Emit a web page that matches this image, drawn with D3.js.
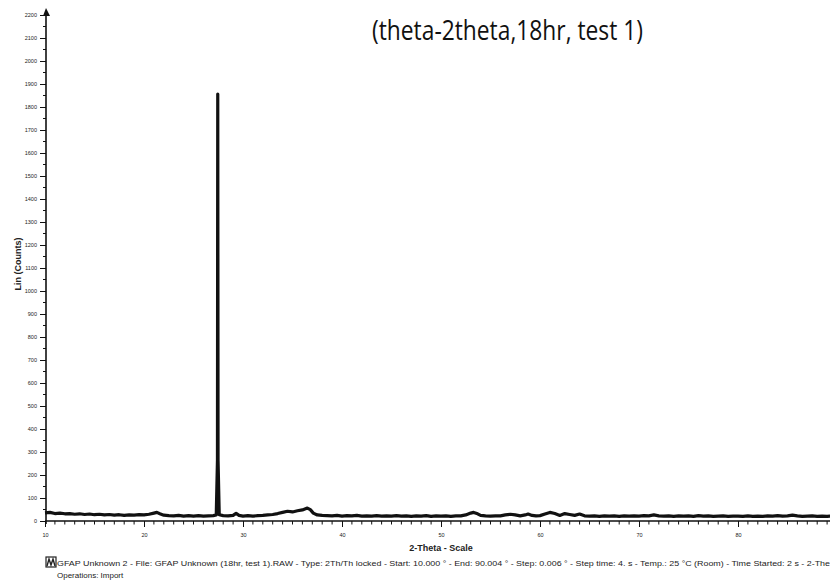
<!DOCTYPE html>
<html>
<head>
<meta charset="utf-8">
<script src="https://cdn.jsdelivr.net/npm/d3@7"></script>
<style>
  html, body { margin: 0; padding: 0; background: #fff; }
  svg { display: block; }
</style>
</head>
<body>
<svg id="chart" width="830" height="582"></svg>
<script>
// ---- data ----
const chartTitle = "(theta-2theta,18hr, test 1)";
const yLabel = "Lin (Counts)";
const xLabel = "2-Theta - Scale";
const captionLine1 = "GFAP Unknown 2 - File: GFAP Unknown (18hr, test 1).RAW - Type: 2Th/Th locked - Start: 10.000 ° - End: 90.004 ° - Step: 0.006 ° - Step time: 4. s - Temp.: 25 °C (Room) - Time Started: 2 s - 2-The";
const captionLine2 = "Operations: Import";

const yTickValues = [0,100,200,300,400,500,600,700,800,900,1000,1100,1200,1300,1400,1500,1600,1700,1800,1900,2000,2100,2200];
const xTickValues = [10,20,30,40,50,60,70,80];

const twoTheta = [
 10,10.5,11,11.5,12,12.5,13,13.5,14,14.5,15,15.5,16,16.5,17,17.5,18,18.5,19,19.5,
 20,20.5,21,21.3,21.6,22,22.5,23,23.5,24,24.5,25,25.5,26,26.5,27,27.3,27.42,27.45,27.48,27.6,28,28.5,
 29,29.3,29.6,30,30.5,31,31.5,32,32.5,33,33.5,34,34.5,35,35.5,36,36.5,36.8,37.1,37.5,
 38,38.5,39,39.5,40,40.5,41,41.5,42,42.5,43,43.5,44,44.5,45,45.5,46,46.5,47,47.5,48,48.5,49,49.5,
 50,50.5,51,51.5,52,52.5,53,53.3,53.7,54,54.5,55,55.5,56,56.5,57,57.5,58,58.5,58.8,59.2,59.6,
 60,60.5,61,61.5,62,62.5,63,63.5,64,64.5,65,65.5,66,66.5,67,67.5,68,68.5,69,69.5,
 70,70.5,71,71.5,72,72.5,73,73.5,74,74.5,75,75.5,76,76.5,77,77.5,78,78.5,79,79.5,
 80,80.5,81,81.5,82,82.5,83,83.5,84,84.5,85,85.5,86,86.5,87,87.5,88,88.5,89,89.3
];
const counts = [
 31,33,28,30,27,28,25,27,24,26,23,25,22,24,21,23,20,22,21,23,
 22,25,30,33,27,21,19,18,20,17,19,17,19,17,18,19,22,260,1852,260,23,19,18,
 20,29,20,17,19,17,19,20,22,24,28,33,38,35,40,44,52,45,30,22,
 20,19,18,20,17,19,18,20,17,18,17,19,17,18,17,19,17,18,16,18,17,19,16,18,
 17,18,16,18,18,22,30,33,27,20,18,17,18,18,22,25,22,18,22,26,20,18,
 19,26,33,28,20,28,24,20,26,18,17,18,16,18,17,18,16,18,17,18,
 17,19,18,22,18,17,18,16,18,17,18,16,19,17,18,16,17,18,16,17,
 17,16,18,16,17,16,18,17,19,17,18,21,18,16,17,18,16,17,16,17
];

// ---- layout ----
const svg = d3.select("#chart");
const x0 = 46, yBase = 521, yTop = 15;
const x = d3.scaleLinear().domain([10, 80]).range([45, 738]);
const y = d3.scaleLinear().domain([0, 2200]).range([yBase, yTop]);

// title
svg.append("text")
  .attr("x", 372).attr("y", 40)
  .attr("font-family", "Open Sans, Noto Sans, sans-serif")
  .attr("font-size", 27)
  .attr("fill", "#111")
  .attr("textLength", 271).attr("lengthAdjust", "spacingAndGlyphs")
  .text(chartTitle);

// y axis
const yAxisG = svg.append("g").attr("transform", `translate(${x0},0)`);
yAxisG.call(d3.axisLeft(y).tickValues(yTickValues).tickSize(6).tickPadding(3).tickFormat(d3.format("d")));
yAxisG.select(".domain").remove();
yAxisG.selectAll("text").attr("font-size", 5.5).attr("font-family", "Liberation Sans, Arial, sans-serif").attr("fill", "#222");
yAxisG.selectAll("line").attr("stroke", "#111");
const yMinor = d3.range(50, 2200, 100);
yAxisG.selectAll(".yminor").data(yMinor).join("line")
  .attr("class", "yminor")
  .attr("x1", -3).attr("x2", 0)
  .attr("y1", d => y(d)).attr("y2", d => y(d))
  .attr("stroke", "#111");
svg.append("line").attr("x1", x0).attr("x2", x0).attr("y1", yBase + 3).attr("y2", 12)
  .attr("stroke", "#111").attr("stroke-width", 1.6);
svg.append("path").attr("d", `M${x0},8 L${x0 - 3},16 L${x0 + 4},16 Z`).attr("fill", "#111");

// x axis
const xAxisG = svg.append("g").attr("transform", `translate(0,${yBase})`);
xAxisG.call(d3.axisBottom(x).tickValues(xTickValues).tickSize(6).tickPadding(6).tickFormat(d3.format("d")));
xAxisG.select(".domain").remove();
xAxisG.selectAll("text").attr("font-size", 5.5).attr("font-family", "Liberation Sans, Arial, sans-serif").attr("fill", "#222");
xAxisG.selectAll("line").attr("stroke", "#111");
const xMinor = d3.range(11, 90, 1).filter(d => d % 10 !== 0);
xAxisG.selectAll(".xminor").data(xMinor).join("line")
  .attr("class", "xminor")
  .attr("x1", d => x(d)).attr("x2", d => x(d))
  .attr("y1", 0).attr("y2", 3.5)
  .attr("stroke", "#111");
svg.append("line").attr("x1", 45).attr("x2", 830).attr("y1", yBase).attr("y2", yBase)
  .attr("stroke", "#111").attr("stroke-width", 1.6);

// data trace
const pts = twoTheta.map((d, i) => [d, counts[i]]);
const line = d3.line().x(d => x(d[0])).y(d => y(d[1]) - 1);
svg.append("path").datum(pts)
  .attr("d", line)
  .attr("fill", "none")
  .attr("stroke", "#111")
  .attr("stroke-width", 3.2)
  .attr("stroke-linejoin", "round");

// axis labels
svg.append("text")
  .attr("transform", `translate(21,264) rotate(-90)`)
  .attr("text-anchor", "middle")
  .attr("font-family", "Liberation Sans, Arial, sans-serif")
  .attr("font-size", 9).attr("font-weight", "bold").attr("fill", "#222")
  .text(yLabel);
svg.append("text")
  .attr("x", 441).attr("y", 551)
  .attr("text-anchor", "middle")
  .attr("font-family", "Liberation Sans, Arial, sans-serif")
  .attr("font-size", 9).attr("font-weight", "bold").attr("fill", "#222")
  .text(xLabel);

// caption icon
const ic = svg.append("g").attr("transform", "translate(46,557)");
ic.append("rect").attr("x", 0).attr("y", 0).attr("width", 10).attr("height", 10)
  .attr("fill", "none").attr("stroke", "#222").attr("stroke-width", 1.2);
ic.append("path").attr("d", "M1,9 L3,2 L5,8 L7,2 L9,9").attr("fill", "none").attr("stroke", "#222").attr("stroke-width", 1.4);

// caption text
svg.append("text")
  .attr("x", 57).attr("y", 566)
  .attr("font-family", "Liberation Sans, Arial, sans-serif")
  .attr("font-size", 8).attr("fill", "#222")
  .attr("textLength", 773).attr("lengthAdjust", "spacingAndGlyphs")
  .text(captionLine1);
svg.append("text")
  .attr("x", 57).attr("y", 578)
  .attr("font-family", "Liberation Sans, Arial, sans-serif")
  .attr("font-size", 8).attr("fill", "#222")
  .text(captionLine2);
</script>
</body>
</html>
